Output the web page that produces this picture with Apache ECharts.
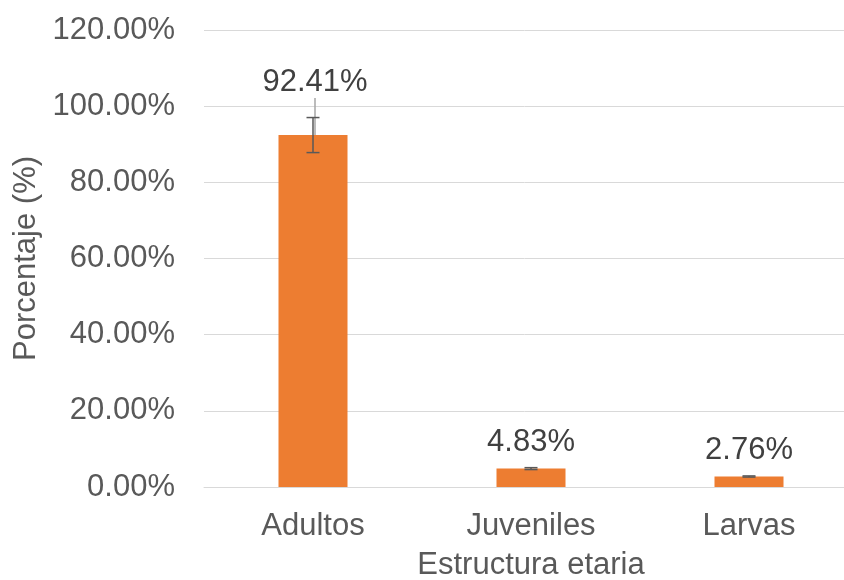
<!DOCTYPE html>
<html>
<head>
<meta charset="utf-8">
<script src="https://cdn.jsdelivr.net/npm/echarts@6/dist/echarts.min.js"></script>
<style>
  html, body { margin: 0; padding: 0; background: #fff; }
  #chart { width: 844px; height: 580px; }
</style>
</head>
<body>
<div id="chart"></div>
<script>
// datos
var categorias = ['Adultos', 'Juveniles', 'Larvas'];
var porcentajes = [92.41, 4.83, 2.76];
var errores = [4.6, 0.25, 0.15];

var fuente = 'Liberation Sans, Arial, sans-serif';

var chart = echarts.init(document.getElementById('chart'));

var errorData = [];
var barData = [];
for (var i = 0; i < categorias.length; i++) {
  errorData.push([i, porcentajes[i] - errores[i], porcentajes[i] + errores[i]]);
  // la etiqueta de Adultos esta desplazada con linea guia
  barData.push({ value: porcentajes[i], labelLine: { show: i === 0 } });
}

var option = {
  animation: false,
  grid: { left: 204, top: 30, bottom: 93, width: 654, outerBoundsMode: 'none' },
  xAxis: {
    type: 'category',
    data: categorias,
    axisTick: { show: false },
    axisLine: { lineStyle: { color: '#d9d9d9', width: 1 } },
    axisLabel: { color: '#595959', fontSize: 31, fontFamily: fuente, margin: 24 },
    name: 'Estructura etaria',
    nameLocation: 'middle',
    nameGap: 63,
    nameTextStyle: { color: '#595959', fontSize: 31, fontFamily: fuente }
  },
  yAxis: {
    type: 'value',
    min: 0,
    max: 120,
    interval: 20,
    axisLine: { show: false },
    axisTick: { show: false },
    splitLine: { lineStyle: { color: '#d9d9d9', width: 1 } },
    axisLabel: {
      color: '#595959', fontSize: 31, fontFamily: fuente, margin: 29,
      formatter: function (v) { return v.toFixed(2) + '%'; }
    },
    name: 'Porcentaje (%)',
    nameLocation: 'middle',
    nameGap: 158,
    nameTextStyle: { color: '#595959', fontSize: 31, fontFamily: fuente }
  },
  series: [
    {
      type: 'bar',
      data: barData,
      barWidth: 69,
      itemStyle: { color: '#ED7D31' },
      label: {
        show: true,
        position: 'top',
        distance: 11,
        color: '#404040',
        fontSize: 31,
        fontFamily: fuente,
        formatter: function (p) { return p.value.toFixed(2) + '%'; }
      },
      labelLayout: function (p) {
        if (p.dataIndex === 0) return { dx: 2, dy: -26 };
        return {};
      },
      labelLine: {
        show: false,
        lineStyle: { color: '#a6a6a6', width: 1.5 }
      }
    },
    {
      type: 'custom',
      data: errorData,
      z: 10,
      renderItem: function (params, api) {
        var x = api.value(0);
        var lo = api.coord([x, api.value(1)]);
        var hi = api.coord([x, api.value(2)]);
        var hw = 6.5;
        var st = { stroke: '#595959', lineWidth: 1.5 };
        return {
          type: 'group',
          children: [
            { type: 'line', shape: { x1: lo[0], y1: lo[1], x2: hi[0], y2: hi[1] }, style: st },
            { type: 'line', shape: { x1: lo[0] - hw, y1: lo[1], x2: lo[0] + hw, y2: lo[1] }, style: st },
            { type: 'line', shape: { x1: hi[0] - hw, y1: hi[1], x2: hi[0] + hw, y2: hi[1] }, style: st }
          ]
        };
      }
    }
  ]
};

chart.setOption(option);
</script>
</body>
</html>
